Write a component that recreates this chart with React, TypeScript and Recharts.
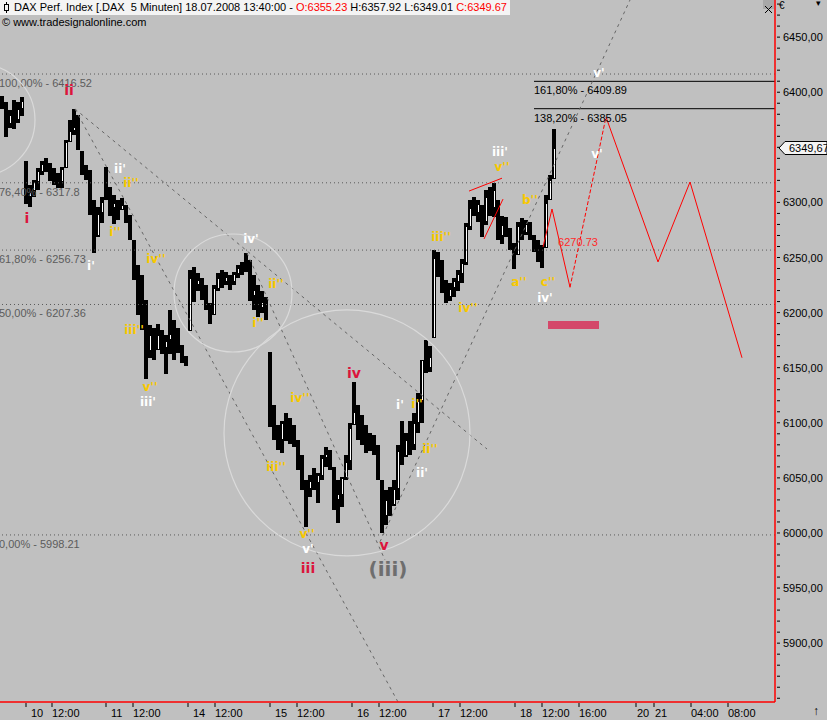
import React from "react";
import {
  ComposedChart,
  Bar,
  Line,
  XAxis,
  YAxis,
  ReferenceLine,
  ReferenceDot,
  ReferenceArea,
} from "recharts";

// 5-minute bars, grouped into one candle per slot
const highs = [
  6397, 6391, 6384, 6393, 6391, 6396, 6338, 6316, 6320, 6331,
  6338, 6340, 6336, 6331, 6327, 6332, 6357, 6375, 6385, 6379,
  6347, 6334, 6329, 6302, 6296, 6305, 6332, 6314, 6307, 6302,
  6304, 6298, 6289, 6266, 6243, 6234, 6211, 6189, 6186, 6190,
  6184, 6180, 6202, 6193, 6186, 6171, 6161, 6239, 6241, 6236,
  6231, 6225, 6209, 6225, 6236, 6239, 6237, 6234, 6237, 6243,
  6246, 6254, 6248, 6234, 6225, 6220, 6214, 6164, 6116, 6098,
  6102, 6109, 6104, 6098, 6084, 6071, 6048, 6053, 6059, 6054,
  6071, 6078, 6075, 6060, 6048, 6051, 6071, 6100, 6137, 6116,
  6107, 6098, 6091, 6089, 6080, 6048, 6039, 6042, 6048, 6080,
  6102, 6091, 6102, 6109, 6127, 6157, 6175, 6170, 6257, 6255,
  6248, 6230, 6227, 6231, 6239, 6249, 6281, 6302, 6305, 6302,
  6298, 6311, 6314, 6318, 6302, 6288, 6287, 6277, 6263, 6282,
  6286, 6284, 6282, 6270, 6266, 6261, 6307, 6325, 6367,
];
const lows = [
  6385, 6359, 6368, 6367, 6372, 6379, 6299, 6296, 6305, 6311,
  6325, 6327, 6320, 6316, 6313, 6313, 6332, 6355, 6361, 6347,
  6325, 6320, 6288, 6254, 6269, 6281, 6302, 6288, 6281, 6284,
  6293, 6282, 6266, 6230, 6198, 6184, 6139, 6159, 6157, 6166,
  6162, 6145, 6162, 6157, 6163, 6155, 6152, 6184, 6209, 6220,
  6211, 6202, 6190, 6198, 6220, 6223, 6225, 6220, 6225, 6231,
  6234, 6237, 6211, 6202, 6196, 6200, 6193, 6096, 6084, 6075,
  6073, 6084, 6080, 6078, 6057, 6039, 6005, 6033, 6039, 6027,
  6048, 6060, 6057, 6021, 6009, 6024, 6048, 6057, 6098, 6084,
  6080, 6073, 6075, 6071, 6048, 6000, 6007, 6016, 6024, 6030,
  6062, 6069, 6071, 6075, 6091, 6100, 6145, 6146, 6177, 6232,
  6218, 6209, 6211, 6214, 6220, 6227, 6243, 6275, 6288, 6282,
  6269, 6279, 6288, 6287, 6266, 6263, 6269, 6257, 6239, 6252,
  6266, 6270, 6266, 6255, 6246, 6240, 6259, 6302, 6322,
];
const closes = [
  6388, 6372, 6380, 6375, 6385, 6392, 6305, 6310, 6318, 6328,
  6335, 6330, 6322, 6320, 6318, 6330, 6355, 6365, 6368, 6350,
  6328, 6325, 6295, 6270, 6290, 6300, 6305, 6295, 6300, 6290,
  6298, 6285, 6268, 6238, 6205, 6200, 6165, 6180, 6165, 6180,
  6168, 6175, 6180, 6170, 6168, 6160, 6156, 6232, 6225, 6230,
  6218, 6205, 6198, 6222, 6232, 6228, 6232, 6228, 6235, 6240,
  6242, 6240, 6215, 6220, 6205, 6210, 6198, 6105, 6090, 6085,
  6100, 6092, 6095, 6082, 6062, 6045, 6040, 6048, 6045, 6052,
  6068, 6072, 6062, 6030, 6035, 6050, 6065, 6095, 6110, 6095,
  6090, 6085, 6080, 6076, 6050, 6015, 6030, 6025, 6040, 6075,
  6070, 6085, 6080, 6100, 6120, 6165, 6150, 6160, 6250, 6240,
  6222, 6215, 6222, 6228, 6235, 6245, 6278, 6295, 6290, 6298,
  6282, 6305, 6295, 6312, 6270, 6280, 6275, 6262, 6250, 6278,
  6272, 6280, 6270, 6260, 6255, 6250, 6300, 6320, 6349.67,
];

// time axis (slot units)
const xTickValues = [6, 12.5, 26, 32.75, 46.5, 53.25, 67, 73.75, 87.5, 94.25, 107.75, 114.5, 128.25, 135, 144.25, 158.5, 163, 172.25, 181.5];
const xTickLabels = ["10", "12:00", "11", "12:00", "14", "12:00", "15", "12:00", "16", "12:00", "17", "12:00", "18", "12:00", "16:00", "20", "21", "04:00", "08:00"];
// 6350 is covered by the last-price marker
const priceMajorTicks = [5900, 5950, 6000, 6050, 6100, 6150, 6200, 6250, 6300, 6400, 6450];

// fibonacci levels
const fibLevels = [6416.52, 6317.8, 6256.73, 6207.36, 5998.21];
const fibLabels = ["100,00% - 6416.52", "76,40% - 6317.8", "61,80% - 6256.73", "50,00% - 6207.36", "0,00% - 5998.21"];
const extLevels = [6409.89, 6385.05];
const extLabels = ["161,80% - 6409.89", "138,20% - 6385.05"];
const extStart = 133;

// projection path
const projX = [135.25, 137.5, 142, 151, 164, 172, 185];
const projP = [6259.5, 6294, 6223, 6377.5, 6246, 6318.5, 6159];
const targetZone = { x1: 136.5, x2: 149.25, p1: 6185.1, p2: 6192.3 };
const projLabel = { text: "6270.73", x: 144, p: 6264.1 };

// wedge lines
const wedgeX = [[116.75, 125], [120.5, 125.25]];
const wedgeP = [[6310.3, 6322], [6266.8, 6303]];

// trend lines (gray dashed)
const trendX = [[18.25, 121.25], [18.25, 99], [61.25, 95.75], [94.5, 157]];
const trendP = [[6384.8, 6076.2], [6384.8, 5846.6], [6254.1, 5975.5], [5992, 6483.7]];

// circles
const circleX = [-5.75, 57.75, 86.25];
const circleP = [6374.8, 6217.8, 6090.8];
const circleR = [56, 59, 123];

// wave counts
const redText = ["ii", "i", "iv", "iii", "v"];
const redX = [16.75, 6.25, 88, 76.5, 95.5];
const redP = [6402, 6285.9, 6145.2, 5968.3, 5989.1];

const whiteText = ["ii'", "i'", "iii'", "iv'", "v'", "i'", "ii'", "iii'", "iv'", "v'", "v'"];
const whiteX = [29.5, 22.25, 36.5, 62.25, 76.5, 99.5, 105, 124.5, 135.75, 149.25, 148.75];
const whiteP = [6331.2, 6242.3, 6118.9, 6266.8, 5985.5, 6116.2, 6054.5, 6346.6, 6213.3, 6418.3, 6344.8];

const yellowText = ["ii''", "i''", "iv''", "iii''", "v''", "ii''", "i''", "iv''", "iii''", "v''", "i''", "ii''", "iii''", "iv''", "v''", "a''", "b''", "c''"];
const yellowX = [32.25, 28.25, 38.5, 33, 37, 68.5, 64, 74.5, 68.5, 76.25, 103.75, 107, 109.75, 116.5, 125, 129.25, 132, 136.5];
const yellowP = [6318.5, 6273.2, 6249.5, 6185.1, 6132.5, 6226, 6190.6, 6123.4, 6059.9, 5999.9, 6117.1, 6076.3, 6269.5, 6204.2, 6333, 6227.8, 6302.2, 6227.8];

const degreeLabel = { text: "(iii)", x: 96.5, p: 5967.4 };

const W = 827;
const H = 720;
const Y_DOMAIN = [5846.6, 6483.7];
const X_DOMAIN = [-0.5, 193.25];
const SANS = '"Liberation Sans", Arial, sans-serif';
const BOLD = '"DejaVu Sans", sans-serif';

const candles = highs.map((hi, i) => ({
  i,
  hi,
  lo: lows[i],
  close: closes[i],
  open: i === 0 ? closes[0] : closes[i - 1],
  range: [lows[i], hi],
}));

const projA = projX.slice(0, 3).map((x, k) => ({ i: x, p: projP[k] }));
const projB = projX.slice(2, 4).map((x, k) => ({ i: x, p: projP[k + 2] }));
const projC = projX.slice(3).map((x, k) => ({ i: x, p: projP[k + 3] }));

const minorTicks: number[] = [];
for (let v = 5850; v <= 6480; v += 10) minorTicks.push(v);

function Candle(props: any) {
  const { x, y, width, height, payload } = props;
  if (x == null || !payload) return null;
  const top = Math.round(Math.min(y, y + height));
  const h = Math.max(Math.round(Math.abs(height)), 1);
  const cx = Math.round(x + width / 2);
  const span = payload.hi - payload.lo || 1;
  const toY = (v: number) => top + ((payload.hi - v) / span) * h;
  const o = Math.min(Math.max(payload.open, payload.lo), payload.hi);
  const c = Math.min(Math.max(payload.close, payload.lo), payload.hi);
  const up = c > o;
  const bTop = Math.round(toY(Math.max(o, c)));
  const bBot = Math.round(toY(Math.min(o, c)));
  return (
    <g shapeRendering="crispEdges">
      <rect x={cx - 2} y={top} width={4} height={h} fill="#000" />
      {up && bBot - bTop > 3 && (
        <rect x={cx - 0.5} y={bTop + 1} width={1} height={bBot - bTop - 2} fill="#fff" />
      )}
    </g>
  );
}

function XTick(props: any) {
  const { x, y, payload, index } = props;
  const label = xTickLabels[index] ?? "";
  const dx = label.includes(":") ? 0 : payload.value > 150 ? 1 : 5;
  return (
    <g>
      <line x1={x} x2={x} y1={y + 1} y2={y + 5} stroke="#000" />
      <text x={x + dx} y={y + 15} fontSize={11} fontFamily={SANS} fill="#000">
        {label}
      </text>
    </g>
  );
}

function YTick(props: any) {
  const { x, y, payload } = props;
  const v = payload.value;
  const major = priceMajorTicks.includes(v);
  return (
    <g>
      <line x1={x + 2} x2={x + 5} y1={y} y2={y} stroke="#000" />
      {major && (
        <text x={x + 8} y={y + 4} fontSize={11} fontFamily={SANS} fill="#000">
          {v.toFixed(2).replace(".", ",")}
        </text>
      )}
    </g>
  );
}

const textShape =
  (text: string, color: string, size: number, font: string, weight: number, anchor: string, dx = 0, dy = 0) =>
  (p: any) =>
    (
      <text
        x={p.cx + dx}
        y={p.cy + dy}
        fill={color}
        fontSize={size}
        fontFamily={font}
        fontWeight={weight}
        textAnchor={anchor as any}
      >
        {text}
      </text>
    );

const priceMarker = (p: any) => {
  const cy = Math.round(p.cy);
  return (
    <g>
      <polygon
        points={`${p.cx + 4},${cy} ${p.cx + 10},${cy - 6.5} ${W},${cy - 6.5} ${W},${cy + 6.5} ${p.cx + 10},${cy + 6.5}`}
        fill="#f4f4f4"
        stroke="#000"
      />
      <text x={p.cx + 14} y={cy + 4} fontSize={11} fontFamily={SANS} fill="#000">
        {closes[closes.length - 1].toFixed(2).replace(".", ",")}
      </text>
    </g>
  );
};

export default function App() {
  return (
    <div
      style={{
        position: "absolute",
        left: 0,
        top: 0,
        width: W,
        height: H,
        background: "#c0c0c0",
        overflow: "hidden",
        fontFamily: SANS,
      }}
    >
      <ComposedChart
        width={W}
        height={H}
        data={candles}
        margin={{ top: 0, right: 0, bottom: 0, left: 0 }}
      >
        <XAxis
          dataKey="i"
          type="number"
          domain={X_DOMAIN}
          allowDataOverflow
          ticks={xTickValues}
          interval={0}
          height={18}
          tickSize={0}
          tickMargin={0}
          tickLine={false}
          axisLine={{ stroke: "#ff0000", strokeWidth: 1.5 }}
          tick={<XTick />}
        />
        <YAxis
          orientation="right"
          type="number"
          domain={Y_DOMAIN}
          allowDataOverflow
          ticks={minorTicks}
          interval={0}
          width={52}
          tickSize={0}
          tickMargin={0}
          tickLine={false}
          axisLine={{ stroke: "#ff0000", strokeWidth: 1.5 }}
          tick={<YTick />}
        />

        {fibLevels.map((lv) => (
          <ReferenceLine key={"f" + lv} y={lv} stroke="#5a5a5a" strokeDasharray="1 3" />
        ))}
        {fibLevels.map((lv, k) => (
          <ReferenceDot
            key={"fl" + lv}
            x={X_DOMAIN[0]}
            y={lv}
            r={0}
            ifOverflow="visible"
            shape={textShape(fibLabels[k], "#5c5c5c", 11, SANS, 400, "start", -1, 13)}
          />
        ))}
        {extLevels.map((lv) => (
          <ReferenceLine
            key={"e" + lv}
            segment={[
              { x: extStart, y: lv },
              { x: X_DOMAIN[1], y: lv },
            ]}
            stroke="#000"
          />
        ))}
        {extLevels.map((lv, k) => (
          <ReferenceDot
            key={"el" + lv}
            x={extStart}
            y={lv}
            r={0}
            ifOverflow="visible"
            shape={textShape(extLabels[k], "#000", 11, SANS, 400, "start", 0, 13)}
          />
        ))}

        {circleX.map((cx, k) => (
          <ReferenceDot
            key={"c" + k}
            x={cx}
            y={circleP[k]}
            r={circleR[k]}
            fill="none"
            stroke="#dadada"
            strokeWidth={1.2}
            ifOverflow="visible"
          />
        ))}

        {trendX.map((xs, k) => (
          <ReferenceLine
            key={"t" + k}
            segment={[
              { x: xs[0], y: trendP[k][0] },
              { x: xs[1], y: trendP[k][1] },
            ]}
            stroke="#666"
            strokeDasharray="3 4"
            ifOverflow="hidden"
          />
        ))}

        <Bar dataKey="range" barSize={4} isAnimationActive={false} shape={<Candle />} />

        <ReferenceArea
          x1={targetZone.x1}
          x2={targetZone.x2}
          y1={targetZone.p1}
          y2={targetZone.p2}
          fill="#d4486a"
          fillOpacity={1}
          stroke="none"
        />

        {wedgeX.map((xs, k) => (
          <ReferenceLine
            key={"w" + k}
            segment={[
              { x: xs[0], y: wedgeP[k][0] },
              { x: xs[1], y: wedgeP[k][1] },
            ]}
            stroke="#ff0000"
          />
        ))}

        <Line data={projA} dataKey="p" type="linear" stroke="#ff0000" strokeWidth={1} dot={false} isAnimationActive={false} />
        <Line data={projB} dataKey="p" type="linear" stroke="#ff0000" strokeWidth={1} strokeDasharray="4 2" dot={false} isAnimationActive={false} />
        <Line data={projC} dataKey="p" type="linear" stroke="#ff0000" strokeWidth={1} dot={false} isAnimationActive={false} />

        <ReferenceDot
          x={projLabel.x}
          y={projLabel.p}
          r={0}
          ifOverflow="visible"
          shape={textShape(projLabel.text, "#ff2a2a", 11, SANS, 400, "middle", 0, 4)}
        />

        {redText.map((t, k) => (
          <ReferenceDot
            key={"r" + k}
            x={redX[k]}
            y={redP[k]}
            r={0}
            ifOverflow="visible"
            shape={textShape(t, "#dc143c", 14, BOLD, 700, "middle", 0, 5)}
          />
        ))}
        {whiteText.map((t, k) => (
          <ReferenceDot
            key={"w" + k}
            x={whiteX[k]}
            y={whiteP[k]}
            r={0}
            ifOverflow="visible"
            shape={textShape(t, "#ffffff", 12, BOLD, 700, "middle", 0, 4.5)}
          />
        ))}
        {yellowText.map((t, k) => (
          <ReferenceDot
            key={"y" + k}
            x={yellowX[k]}
            y={yellowP[k]}
            r={0}
            ifOverflow="visible"
            shape={textShape(t, "#f8c800", 12, BOLD, 700, "middle", 0, 4.5)}
          />
        ))}
        <ReferenceDot
          x={degreeLabel.x}
          y={degreeLabel.p}
          r={0}
          ifOverflow="visible"
          shape={textShape(degreeLabel.text, "#6e6e6e", 20, BOLD, 700, "middle", 0, 7)}
        />

        <ReferenceDot
          x={X_DOMAIN[1]}
          y={closes[closes.length - 1]}
          r={0}
          ifOverflow="visible"
          shape={priceMarker}
        />
      </ComposedChart>

      {/* title bar */}
      <div
        style={{
          position: "absolute",
          left: 0,
          top: 0,
          width: 510,
          height: 15,
          background: "#f4f4f4",
          fontSize: 11,
          lineHeight: "14px",
          whiteSpace: "pre",
          color: "#000",
        }}
      >
        <svg width={12} height={15} style={{ position: "absolute", left: 1, top: 0 }}>
          <line x1={5.5} x2={5.5} y1={2} y2={13} stroke="#000" />
          <rect x={3.5} y={4.5} width={4} height={6} fill="#f4f4f4" stroke="#000" />
        </svg>
        <span style={{ position: "absolute", left: 14, top: 0 }}>
          {"DAX Perf. Index [.DAX  5 Minuten] 18.07.2008 13:40:00 - "}
          <span style={{ color: "#ff0000" }}>O:6355.23</span>
          {" H:6357.92 L:6349.01 "}
          <span style={{ color: "#ff0000" }}>C:6349.67</span>
        </span>
      </div>
      <div style={{ position: "absolute", left: 2, top: 16, fontSize: 11, color: "#000" }}>
        © www.tradesignalonline.com
      </div>
      <div
        style={{
          position: "absolute",
          left: 763,
          top: 0,
          width: 11,
          height: 9,
          background: "#a8a8a8",
        }}
      >
        <svg width={11} height={9}>
          <line x1={2} y1={1} x2={9} y2={8} stroke="#000" />
          <line x1={9} y1={1} x2={2} y2={8} stroke="#000" />
        </svg>
      </div>
      <div style={{ position: "absolute", left: 779, top: 0, fontSize: 10 }}>€</div>
      <div style={{ position: "absolute", left: 816, top: -2, fontSize: 9 }}>▾</div>
      <div style={{ position: "absolute", left: 813, top: 704, fontSize: 12 }}>↑</div>
    </div>
  );
}
